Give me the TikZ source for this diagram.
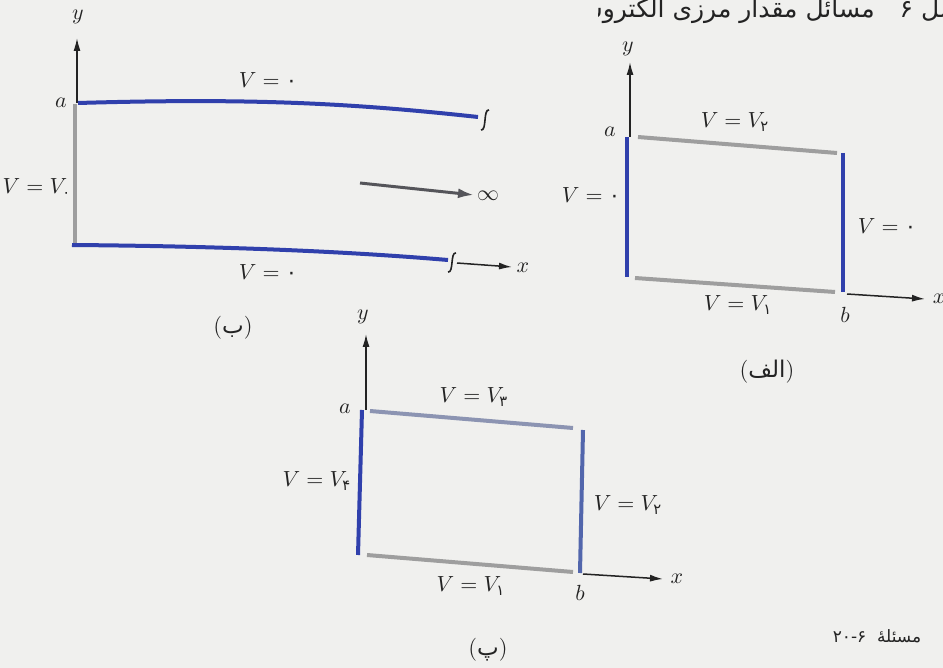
\documentclass[tikz,border=0pt]{standalone}
\usepackage{amsmath}
\usepackage{fontspec}
\usetikzlibrary{arrows.meta}
\TeXXeTstate=1
\newfontfamily\arabicfont[Script=Arabic]{DejaVu Sans}
\newcommand\fa[1]{\text{\arabicfont #1}}
\definecolor{paper}{RGB}{240,240,238}
\definecolor{bnd}{RGB}{48,64,172}
\definecolor{bndsoft}{RGB}{82,102,172}
\definecolor{gry}{RGB}{158,158,158}
\definecolor{grblue}{RGB}{140,148,178}
\definecolor{axisc}{RGB}{35,35,35}
\definecolor{infc}{RGB}{85,85,90}
\begin{document}
\begin{tikzpicture}[x=0.5pt,y=-0.5pt,
  lab/.style={font=\fontsize{10.5}{12}\selectfont, inner sep=1pt, text=axisc},
  capt/.style={font=\fontsize{11.5}{13}\selectfont, inner sep=1pt, text=axisc},
  axis/.style={draw=axisc, line width=0.75pt, -{Latex[length=6.5pt,width=3.5pt]}},
  bline/.style={draw=bnd, line width=2pt},
  gline/.style={draw=gry, line width=2pt},
  brk/.style={draw=axisc, line width=0.8pt}]
\fill[paper] (0,0) rectangle (943,668);
\useasboundingbox (0,0) rectangle (943,668);

% header (cut by the page edges)
\begin{scope}
\clip (598,0) rectangle (943,40);
\node[anchor=base east, inner sep=0pt, text=axisc,
      font=\arabicfont\fontsize{12.5}{14}\selectfont] (hdr) at (974,18)
  {\beginR فصل ۶\quad مسائل مقدار مرزی الکتروستاتیک\endR};
\end{scope}

% ---------------- (b) ----------------
\coordinate (Ba) at (77,103);
\coordinate (Btop) at (77,38);
\coordinate (Bl1) at (75,104);
\coordinate (Bl2) at (75,245);
\coordinate (Bt1) at (78,103);
\coordinate (Bt2) at (478,117);
\coordinate (Bb1) at (72,245);
\coordinate (Bb2) at (448,260);
\coordinate (Bx1) at (457,263);
\coordinate (Bx2) at (512,267);
\coordinate (Bi1) at (360,183);
\coordinate (Bi2) at (474,195);
\draw[gline] (Bl1) -- (Bl2);
\draw[axis] (Ba) -- (Btop);
\draw[bline] (Bt1) .. controls (250,98) and (350,103) .. (Bt2);
\draw[bline] (Bb1) .. controls (200,246) and (330,250) .. (Bb2);
\draw[brk] (481,130) .. controls (487,131) and (483,109) .. (489,110);
\draw[brk] (448,272) .. controls (454,273) and (450,252) .. (456,253);
\draw[axis] (Bx1) -- (Bx2);
\draw[draw=infc, line width=1.5pt, -{Latex[length=8pt,width=5pt]}] (Bi1) -- (Bi2);
\node[lab] (yB) at (78,17) {$y$};
\node[lab] (aB) at (61,103) {$a$};
\node[lab] (v0B) at (37,188) {$V = V_{\fa{۰}}$};
\node[lab] (topB) at (268,80) {$V = \fa{۰}$};
\node[lab] (botB) at (268,272) {$V = \fa{۰}$};
\node[lab] (infB) at (488,196) {$\infty$};
\node[lab] (xB) at (523,268) {$x$};
\node[capt] (capB) at (233,328) {(\fa{ب})};

% ---------------- (alef) ----------------
\coordinate (Aa) at (630,137);
\coordinate (Atop) at (630,62);
\coordinate (Al1) at (627,137);
\coordinate (Al2) at (627,277);
\coordinate (At1) at (638,137);
\coordinate (At2) at (837,153);
\coordinate (Ar1) at (843,153);
\coordinate (Ar2) at (843,292);
\coordinate (Ab1) at (635,278);
\coordinate (Ab2) at (835,292);
\coordinate (Ax1) at (847,294);
\coordinate (Ax2) at (925,299);
\draw[axis] (Aa) -- (Atop);
\draw[bline] (Al1) -- (Al2);
\draw[gline] (At1) -- (At2);
\draw[bline] (Ar1) -- (Ar2);
\draw[gline] (Ab1) -- (Ab2);
\draw[axis] (Ax1) -- (Ax2);
\node[lab] (yA) at (628,49) {$y$};
\node[lab] (aA) at (610,132) {$a$};
\node[lab] (bA) at (845,315) {$b$};
\node[lab] (xA) at (939,299) {$x$};
\node[lab] (topA) at (735,122) {$V = V_{\fa{۲}}$};
\node[lab] (leftA) at (591,195) {$V = \fa{۰}$};
\node[lab] (rightA) at (887,226) {$V = \fa{۰}$};
\node[lab] (botA) at (738,305) {$V = V_{\fa{۱}}$};
\node[capt] (capA) at (767,372) {(\fa{\beginR الف\endR})};

% ---------------- (pe) ----------------
\coordinate (Pa) at (366,410);
\coordinate (Ptop) at (366,334);
\coordinate (Pl1) at (362,410);
\coordinate (Pl2) at (358,555);
\coordinate (Pt1) at (370,411);
\coordinate (Pt2) at (573,428);
\coordinate (Pr1) at (583,430);
\coordinate (Pr2) at (580,573);
\coordinate (Pb1) at (367,555);
\coordinate (Pb2) at (573,572);
\coordinate (Px1) at (583,574);
\coordinate (Px2) at (663,579);
\draw[axis] (Pa) -- (Ptop);
\draw[bline] (Pl1) -- (Pl2);
\draw[draw=grblue, line width=2pt] (Pt1) -- (Pt2);
\draw[draw=bndsoft, line width=2pt] (Pr1) -- (Pr2);
\draw[gline] (Pb1) -- (Pb2);
\draw[axis] (Px1) -- (Px2);
\node[lab] (yP) at (363,317) {$y$};
\node[lab] (aP) at (345,409) {$a$};
\node[lab] (bP) at (580,593) {$b$};
\node[lab] (xP) at (677,579) {$x$};
\node[lab] (topP) at (474,397) {$V = V_{\fa{۳}}$};
\node[lab] (leftP) at (317,481) {$V = V_{\fa{۴}}$};
\node[lab] (rightP) at (628,505) {$V = V_{\fa{۲}}$};
\node[lab] (botP) at (471,586) {$V = V_{\fa{۱}}$};
\node[capt] (capP) at (488,650) {(\fa{پ})};

% problem number
\node[inner sep=0pt, text=axisc, font=\arabicfont\fontsize{8.5}{10}\selectfont]
  (prob) at (877,636) {۲۰-۶\ \ \beginR مسئلهٔ\endR};
\end{tikzpicture}
\end{document}
